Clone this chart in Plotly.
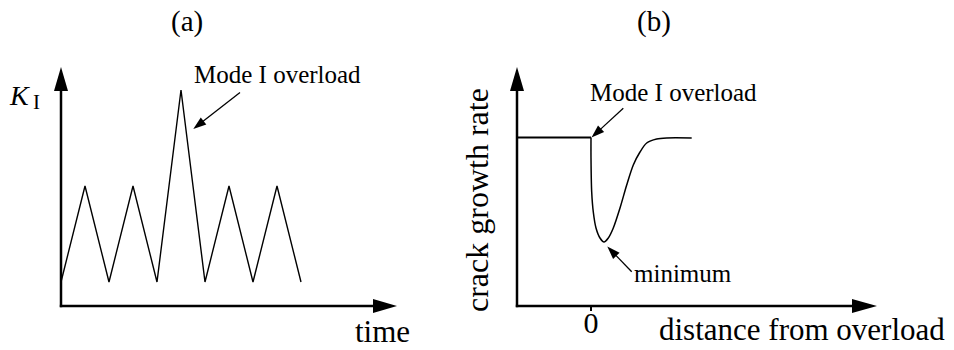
import numpy as np
import plotly.graph_objects as go

# ---------------- data ----------------
# (a) stress intensity K_I versus time (one overload cycle)
time_a = [0, 1, 2, 3, 4, 5, 6, 7, 8, 9, 10]
k_a = [1, 5, 1, 5, 1, 9, 1, 5, 1, 5, 1]

# (b) crack growth rate versus distance from overload
dist_pre = [-7.4, 0.0]
rate_pre = [16.85, 16.85]
dist_post = [0.0, 0.0, 0.07, 0.23, 0.5, 0.9, 1.3, 1.73, 2.23, 2.9, 3.57,
             4.23, 4.9, 5.57, 6.57, 7.57, 10.07]
rate_post = [16.85, 14.8, 11.4, 9.4, 7.8, 6.8, 6.4, 6.8, 7.8, 9.8, 12.1,
             14.1, 15.4, 16.3, 16.7, 16.8, 16.8]

tick_vals_b = [0]
tick_text_b = ["0"]

# ---------------- layout helpers ----------------
W, H = 954, 350
FONT = "Liberation Serif"

# pixel origin and pixels per unit for each panel
A_ORIG, A_SCALE = (61, 306), 24.0
B_ORIG, B_SCALE = (591, 306), 10.0


def px(x):
    return x / W


def py(y):
    return 1 - y / H


def rng(orig, scale, lo, hi):
    return [(lo - orig) / scale, (hi - orig) / scale]


def arrow(tail, tip, head_len, head_w, lw):
    t0 = np.array(tail, float)
    t1 = np.array(tip, float)
    d = t1 - t0
    u = d / np.hypot(*d)
    n = np.array([-u[1], u[0]])
    base = t1 - u * head_len
    p1 = base + n * head_w / 2
    p2 = base - n * head_w / 2
    shaft_end = base + u * 1.0
    return [
        dict(type="line", xref="paper", yref="paper",
             x0=px(t0[0]), y0=py(t0[1]), x1=px(shaft_end[0]), y1=py(shaft_end[1]),
             line=dict(color="black", width=lw)),
        dict(type="path", xref="paper", yref="paper",
             path=f"M{px(t1[0])},{py(t1[1])} L{px(p1[0])},{py(p1[1])} "
                  f"L{px(p2[0])},{py(p2[1])} Z",
             fillcolor="black", line=dict(width=0)),
    ]


def label(text, x, y, size, angle=0, xanchor="center"):
    return dict(text=text, xref="paper", yref="paper", x=px(x), y=py(y),
                xanchor=xanchor, yanchor="middle", showarrow=False,
                textangle=angle, font=dict(family=FONT, size=size, color="black"))


fig = go.Figure()

fig.add_trace(go.Scatter(x=time_a, y=k_a, mode="lines", xaxis="x", yaxis="y",
                         line=dict(color="black", width=1.4), hoverinfo="skip"))
fig.add_trace(go.Scatter(x=dist_pre, y=rate_pre, mode="lines", xaxis="x2", yaxis="y2",
                         line=dict(color="black", width=2), hoverinfo="skip"))
fig.add_trace(go.Scatter(x=dist_post, y=rate_post, mode="lines", xaxis="x2", yaxis="y2",
                         line=dict(color="black", width=1.5, shape="spline", smoothing=0.8),
                         hoverinfo="skip"))

shapes = []
# axes with arrowheads
shapes += arrow((61, 307.2), (61, 67), 24, 14, 2.5)
shapes += arrow((59.8, 306), (397, 306), 24, 14, 2.5)
shapes += arrow((517, 307.2), (517, 67), 24, 14, 2.5)
shapes += arrow((515.8, 306), (877, 306), 25, 14, 2.5)
# annotation arrows
shapes += arrow((240, 92.5), (193.3, 129), 13, 9, 1.3)
shapes += arrow((623.3, 108.3), (591.5, 137.5), 13, 9, 1.3)
shapes += arrow((631.7, 271.7), (607.3, 246.5), 13, 9, 1.3)

annotations = [
    label("(a)", 187, 22, 29),
    label("(b)", 654, 22, 29),
    label("<i>K</i>", 7, 96, 28, xanchor="left"),
    label("I", 31, 102, 21, xanchor="left"),
    label("Mode I overload", 277, 74, 25),
    label("time", 382, 331, 31),
    label("crack growth rate", 477, 200, 32, angle=-90),
    label("Mode I overload", 673, 92, 25),
    label("minimum", 683, 273, 25),
    label("distance from overload", 802, 329, 31),
]

fig.update_layout(
    width=W, height=H,
    margin=dict(l=0, r=0, t=0, b=0),
    paper_bgcolor="white", plot_bgcolor="white",
    showlegend=False,
    xaxis=dict(domain=[0, 0.5], range=rng(A_ORIG[0], A_SCALE, 0, 477), visible=False),
    yaxis=dict(domain=[0, 1], range=rng(A_ORIG[1], -A_SCALE, H, 0), visible=False),
    xaxis2=dict(domain=[0.5, 1], range=rng(B_ORIG[0], B_SCALE, 477, 954),
                anchor="free", position=1 - 306 / H,
                showline=False, showgrid=False, zeroline=False,
                tickvals=tick_vals_b, ticktext=tick_text_b,
                ticks="outside", ticklen=4, tickwidth=1.5, tickcolor="black",
                ticklabelstandoff=-14,
                tickfont=dict(family=FONT, size=30, color="black")),
    yaxis2=dict(domain=[0, 1], anchor="x2", range=rng(B_ORIG[1], -B_SCALE, H, 0),
                visible=False),
    shapes=shapes,
    annotations=annotations,
)

fig.write_html("out.html")
